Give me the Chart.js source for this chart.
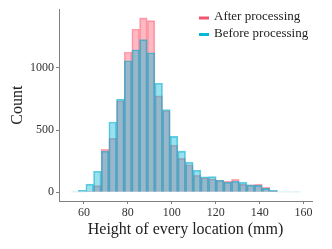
<!DOCTYPE html>
<html>
<head>
<meta charset="utf-8">
<script src="https://cdn.jsdelivr.net/npm/chart.js@4"></script>
<style>
html,body{margin:0;padding:0;background:#fff;}
#c{display:block;}
</style>
</head>
<body>
<canvas id="c" width="332" height="249"></canvas>
<script>
// Bin centres (mm)
const binCenters = [55.65, 59.14, 62.63, 66.12, 69.61, 73.10, 76.59, 80.08, 83.57, 87.06,
                    90.55, 94.04, 97.53, 101.02, 104.51, 108.00, 111.49, 114.98, 118.47, 121.96,
                    125.45, 128.94, 132.43, 135.92, 139.41, 142.90, 146.39, 149.88, 153.37, 156.86];
// Counts
const afterCounts  = [0, 2, 5, 54, 346, 433, 734, 1127, 1312, 1401,
                      1379, 774, 655, 379, 272, 221, 137, 116, 108, 97,
                      89, 105, 65, 59, 65, 40, 10, 0, 0, 0];
const beforeCounts = [3, 16, 66, 169, 331, 565, 748, 1057, 1145, 1226,
                      1121, 876, 665, 449, 331, 241, 177, 125, 126, 97,
                      81, 89, 81, 59, 56, 32, 16, 3, 2, 2];
const seriesLabels = ['After processing', 'Before processing'];
const xTickValues = [60, 80, 100, 120, 140, 160];
const yTickValues = [0, 500, 1000];

const SERIF = '"Liberation Serif", "Times New Roman", serif';

function toPoints(vals){ return binCenters.map((x,i)=>({x:x, y:vals[i]})); }

const legendPlugin = {
  id: 'customLegend',
  afterDraw(chart){
    const ctx = chart.ctx;
    const ds = chart.data.datasets;
    ctx.save();
    ctx.font = '13px ' + SERIF;
    ctx.textBaseline = 'middle';
    ctx.textAlign = 'left';
    ds.forEach((d,i)=>{
      const y = 17 + i*16.5;
      ctx.strokeStyle = d.legendColor;
      ctx.lineWidth = 3;
      ctx.beginPath();
      ctx.moveTo(199, y+1);
      ctx.lineTo(209, y+1);
      ctx.stroke();
      ctx.fillStyle = '#222';
      ctx.fillText(d.label, 214, y);
    });
    ctx.restore();
  }
};

new Chart(document.getElementById('c'), {
  type: 'bar',
  data: {
    datasets: [
      {
        label: seriesLabels[0],
        data: toPoints(afterCounts),
        backgroundColor: 'rgba(255,80,105,0.4)',
        borderColor: 'rgba(255,80,105,0.5)',
        borderWidth: 1,
        legendColor: 'rgb(240,85,110)',
        grouped: false,
        order: 2,
        barPercentage: 1,
        categoryPercentage: 1
      },
      {
        label: seriesLabels[1],
        data: toPoints(beforeCounts),
        backgroundColor: 'rgba(0,180,215,0.4)',
        borderColor: 'rgba(0,170,205,0.6)',
        borderWidth: 1,
        legendColor: 'rgb(0,185,215)',
        grouped: false,
        order: 1,
        barPercentage: 1,
        categoryPercentage: 1
      }
    ]
  },
  options: {
    responsive: false,
    animation: false,
    devicePixelRatio: 1,
    layout: { padding: { top: 9, right: 20, left: 0, bottom: 0 } },
    plugins: { legend: { display: false }, tooltip: { enabled: false } },
    scales: {
      x: {
        type: 'linear',
        min: 48.66,
        max: 163.84,
        offset: false,
        afterBuildTicks(s){ s.ticks = xTickValues.map(v=>({value:v})); },
        afterFit(s){ s.height = 48; },
        ticks: { font: { family: SERIF, size: 12 }, color: '#333', padding: 2, callback: v => String(v), maxRotation: 0 },
        grid: { display: true, drawOnChartArea: false, drawTicks: true, tickLength: 3, color: '#808080', offset: false },
        border: { display: true, color: '#808080', width: 1 },
        title: { display: true, text: 'Height of every location (mm)', font: { family: SERIF, size: 16 }, color: '#222', padding: { top: 0, bottom: 10 } }
      },
      y: {
        type: 'linear',
        min: -70,
        max: 1471,
        afterBuildTicks(s){ s.ticks = yTickValues.map(v=>({value:v})); },
        afterFit(s){ s.width = 59; },
        ticks: { font: { family: SERIF, size: 12 }, color: '#333', padding: 2, callback: v => String(v) },
        grid: { display: true, drawOnChartArea: false, drawTicks: true, tickLength: 3, color: '#808080' },
        border: { display: true, color: '#808080', width: 1 },
        title: { display: true, text: 'Count', font: { family: SERIF, size: 16 }, color: '#222', padding: { top: 8, bottom: 0 } }
      }
    }
  },
  plugins: [legendPlugin]
});
</script>
</body>
</html>
